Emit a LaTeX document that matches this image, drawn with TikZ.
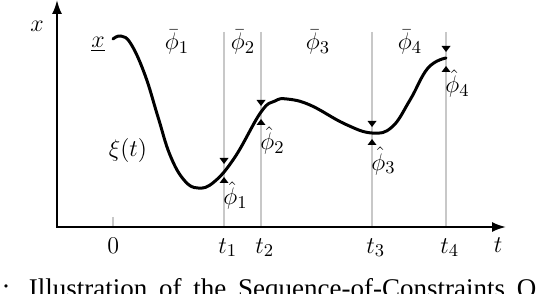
\documentclass[tikz,border=0pt]{standalone}
\usepackage{fontspec}
\newfontfamily\capfont{Liberation Serif}
\usetikzlibrary{arrows.meta}
\definecolor{guidegray}{RGB}{200,200,200}
\begin{document}
\begin{tikzpicture}[x=0.5pt,y=-0.5pt,
  axis/.style={line width=1pt,{Latex[length=7pt,width=5pt]}-{Latex[length=7pt,width=5pt]}},
  guide/.style={line width=1pt,draw=guidegray},
  traj/.style={line width=1.5pt,line join=round,line cap=round},
  lbl/.style={inner sep=0pt,font=\fontsize{13}{15}\selectfont},
  ubnd/.pic={\fill (0,0) -- (-4.5,-6) -- (4.5,-6) -- cycle;},
  lbnd/.pic={\fill (0,0) -- (-4.5,6) -- (4.5,6) -- cycle;}]
\useasboundingbox (0,0) rectangle (536,294);
\begin{scope}
\clip (0,0) rectangle (536,294);
% guides
\coordinate (z0) at (113,217); \coordinate (z1) at (113,227);
\draw[guide] (z0) -- (z1);
\foreach \n/\xx in {1/224,2/261,3/372,4/446}{
  \coordinate (g\n t) at (\xx,32);
  \coordinate (g\n b) at (\xx,227);
  \draw[guide] (g\n t) -- (g\n b);
}
% axes
\coordinate (ytop) at (57,0);
\coordinate (O) at (57,227);
\coordinate (xend) at (506,227);
\draw[axis] (ytop) -- (O) -- (xend);
% trajectory
\draw[traj] plot[smooth,tension=0.7] coordinates {
 (113,39) (121,36) (131,44) (145,75) (158,117) (170,155) (184,180) (198,188)
 (214,182) (235,157) (261,112) (275,101) (287,99) (310,105) (345,124)
 (372,133) (392,127) (410,100) (428,68) (446,58)};
% bounds
\pic at (224,164) {ubnd}; \pic at (224,177) {lbnd};
\pic at (261,106) {ubnd}; \pic at (261,119) {lbnd};
\pic at (372,127) {ubnd}; \pic at (372,139) {lbnd};
\pic at (446,52) {ubnd};  \pic at (446,66) {lbnd};
% labels
\node[lbl,anchor=base] (xlab) at (37,32) {$x$};
\node[lbl,anchor=base] (tlab) at (498,252) {$t$};
\node[lbl,anchor=base] (xlow) at (98,48) {$\underline{x}$};
\node[lbl,anchor=base] (xi) at (128,156) {$\xi(t)$};
\node[lbl,anchor=base] (pb1) at (177,50) {$\bar\phi_1$};
\node[lbl,anchor=base] (pb2) at (243,50) {$\bar\phi_2$};
\node[lbl,anchor=base] (pb3) at (318,50) {$\bar\phi_3$};
\node[lbl,anchor=base] (pb4) at (410,50) {$\bar\phi_4$};
\node[lbl,anchor=base west] (ph1) at (223,205) {$\hat\phi_1$};
\node[lbl,anchor=base west] (ph2) at (260,150) {$\hat\phi_2$};
\node[lbl,anchor=base west] (ph3) at (371,170) {$\hat\phi_3$};
\node[lbl,anchor=base west] (ph4) at (445,93) {$\hat\phi_4$};
\node[lbl,anchor=base west] (t0) at (107,253) {$0$};
\node[lbl,anchor=base west] (t1) at (218,253) {$t_1$};
\node[lbl,anchor=base west] (t2) at (255,253) {$t_2$};
\node[lbl,anchor=base west] (t3) at (366,253) {$t_3$};
\node[lbl,anchor=base west] (t4) at (440,253) {$t_4$};
% caption (cut)
\node[inner sep=0pt,anchor=base west,font=\capfont\fontsize{13.5}{16}\selectfont] (cap) at (2,298)
  {\makebox[267pt][s]{: Illustration of the Sequence-of-Constraints O}};
\end{scope}
\end{tikzpicture}
\end{document}
